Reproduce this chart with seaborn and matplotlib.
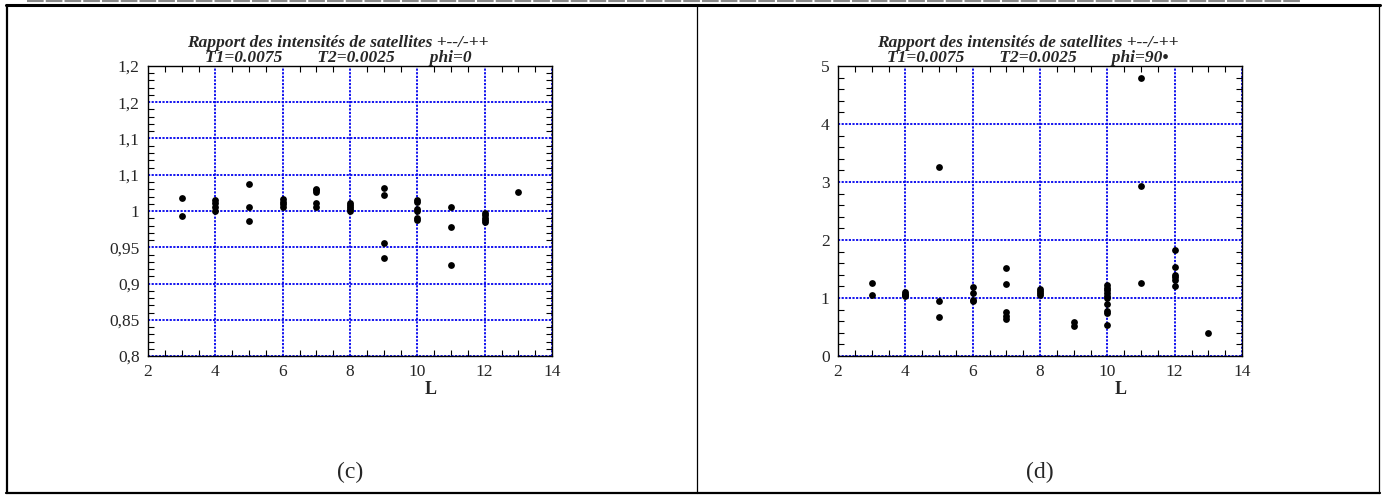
import numpy as np
import pandas as pd
import matplotlib
matplotlib.use("Agg")
import matplotlib.pyplot as plt
from matplotlib.lines import Line2D
from matplotlib.ticker import MultipleLocator
import seaborn as sns

# valeurs
L_phi0 = [3, 3, 4, 4, 4, 4, 5, 5, 5, 6, 6, 6, 6, 7, 7, 7, 7, 7, 8, 8, 8, 8, 8,
          9, 9, 9, 9, 10, 10, 10, 10, 10, 10, 11, 11, 11, 12, 12, 12, 12, 12, 13]
ratio_phi0 = [1.0175, 0.9936, 1.0154, 1.0107, 1.0051, 1.0, 1.0374, 1.0051, 0.9864,
              1.0164, 1.013, 1.0098, 1.006, 1.0308, 1.0285, 1.026, 1.0117, 1.006,
              1.0107, 1.008, 1.005, 1.0023, 0.9995, 1.0313, 1.022, 0.9556, 0.935,
              1.0156, 1.0124, 1.0028, 1.0, 0.990, 0.9876, 1.0061, 0.978, 0.9257,
              0.9977, 0.9944, 0.991, 0.988, 0.9846, 1.0257]

L_phi90 = [3, 3, 4, 4, 4, 4, 5, 5, 5, 6, 6, 6, 6, 7, 7, 7, 7, 7, 8, 8, 8, 8, 9, 9,
           10, 10, 10, 10, 10, 10, 10, 10, 10, 10, 11, 11, 11, 12, 12, 12, 12, 12, 12, 13]
ratio_phi90 = [1.254, 1.058, 1.10, 1.07, 1.05, 1.03, 3.26, 0.954, 0.68,
               1.197, 1.09, 0.97, 0.94, 1.51, 1.25, 0.76, 0.69, 0.64,
               1.156, 1.12, 1.08, 1.046, 0.59, 0.52,
               1.22, 1.18, 1.13, 1.09, 1.04, 1.0, 0.90, 0.78, 0.74, 0.53,
               4.80, 2.93, 1.266, 1.82, 1.53, 1.40, 1.36, 1.31, 1.21, 0.39]

x_ticks = [2, 4, 6, 8, 10, 12, 14]
y_ticks_phi0 = [0.8, 0.85, 0.9, 0.95, 1.0, 1.05, 1.1, 1.15, 1.2]
y_labels_phi0 = ['0,8', '0,85', '0,9', '0,95', '1', '1,1', '1,1', '1,2', '1,2']
y_ticks_phi90 = [0, 1, 2, 3, 4, 5]
y_labels_phi90 = ['0', '1', '2', '3', '4', '5']

titre = "Rapport des intensités de satellites +--/-++"
sous_titres = ["T1=0.0075        T2=0.0025        phi=0",
               "T1=0.0075        T2=0.0025        phi=90\u2022"]
legendes = ["(c)", "(d)"]

sns.set_style("white")
plt.rcParams['font.family'] = ['Liberation Serif', 'DejaVu Serif']

W, H = 1382, 495
fig = plt.figure(figsize=(W / 100, H / 100), dpi=100)


def px_axes(x0, x1, y0, y1):
    return fig.add_axes([x0 / W, 1 - y1 / H, (x1 - x0) / W, (y1 - y0) / H])


def draw_panel(ax, L, ratio, yticks, ylabels, ylim, yminor, subtitle):
    df = pd.DataFrame({'L': L, 'ratio': ratio})
    sns.scatterplot(data=df, x='L', y='ratio', ax=ax, color='black', s=24,
                    linewidth=0, zorder=5)
    ax.set_xlim(2, 14)
    ax.set_ylim(*ylim)
    ax.set_xticks(x_ticks)
    ax.set_xticklabels([str(t) for t in x_ticks])
    ax.set_yticks(yticks)
    ax.set_yticklabels(ylabels)
    ax.xaxis.set_minor_locator(MultipleLocator(0.5))
    ax.yaxis.set_minor_locator(MultipleLocator(yminor))
    ax.tick_params(which='both', direction='in', top=True, right=True,
                   bottom=True, left=True, labelsize=12.5, color='black')
    ax.tick_params(which='major', length=0, pad=6)
    ax.tick_params(which='minor', length=4, width=0.8)
    ax.grid(True, which='major', color='#0000ee', linestyle=(0, (1.2, 0.8)),
            linewidth=1.3)
    for sp in ax.spines.values():
        sp.set_color('black')
        sp.set_linewidth(1.0)
    ax.set_xlabel('')
    ax.set_ylabel('')
    ax.text(0.70, -0.085, 'L', transform=ax.transAxes, ha='center', va='top',
            fontsize=13, fontweight='bold')
    ax.set_title(titre + "\n" + subtitle, fontsize=12.5, fontweight='bold',
                 style='italic', pad=2, linespacing=0.95, x=0.47)


ax1 = px_axes(148, 552, 66, 356)
draw_panel(ax1, L_phi0, ratio_phi0, y_ticks_phi0, y_labels_phi0, (0.8, 1.2), 0.01,
           sous_titres[0])
ax2 = px_axes(838, 1242, 66, 356)
draw_panel(ax2, L_phi90, ratio_phi90, y_ticks_phi90, y_labels_phi90, (0, 5), 0.2,
           sous_titres[1])

# cadre du tableau
def fx(p):
    return p / W


def fy(p):
    return 1 - p / H


fig.add_artist(Line2D([fx(27), fx(1300)], [fy(1), fy(1)], color='#888888', lw=1.5,
                      linestyle=(0, (8, 1))))
fig.add_artist(Line2D([fx(6), fx(1380)], [fy(5), fy(5)], color='black', lw=2.2))
fig.add_artist(Line2D([fx(7), fx(7)], [fy(5), fy(493)], color='black', lw=1.6))
fig.add_artist(Line2D([fx(6), fx(1380)], [fy(493), fy(493)], color='black', lw=1.6))
fig.add_artist(Line2D([fx(697), fx(697)], [fy(5), fy(493)], color='black', lw=0.9))
fig.add_artist(Line2D([fx(1379), fx(1379)], [fy(5), fy(493)], color='black', lw=0.9))

fig.text(fx(350), fy(472), legendes[0], ha='center', va='center', fontsize=17)
fig.text(fx(1040), fy(472), legendes[1], ha='center', va='center', fontsize=17)

fig.savefig("out.png", dpi=100)
plt.close(fig)
